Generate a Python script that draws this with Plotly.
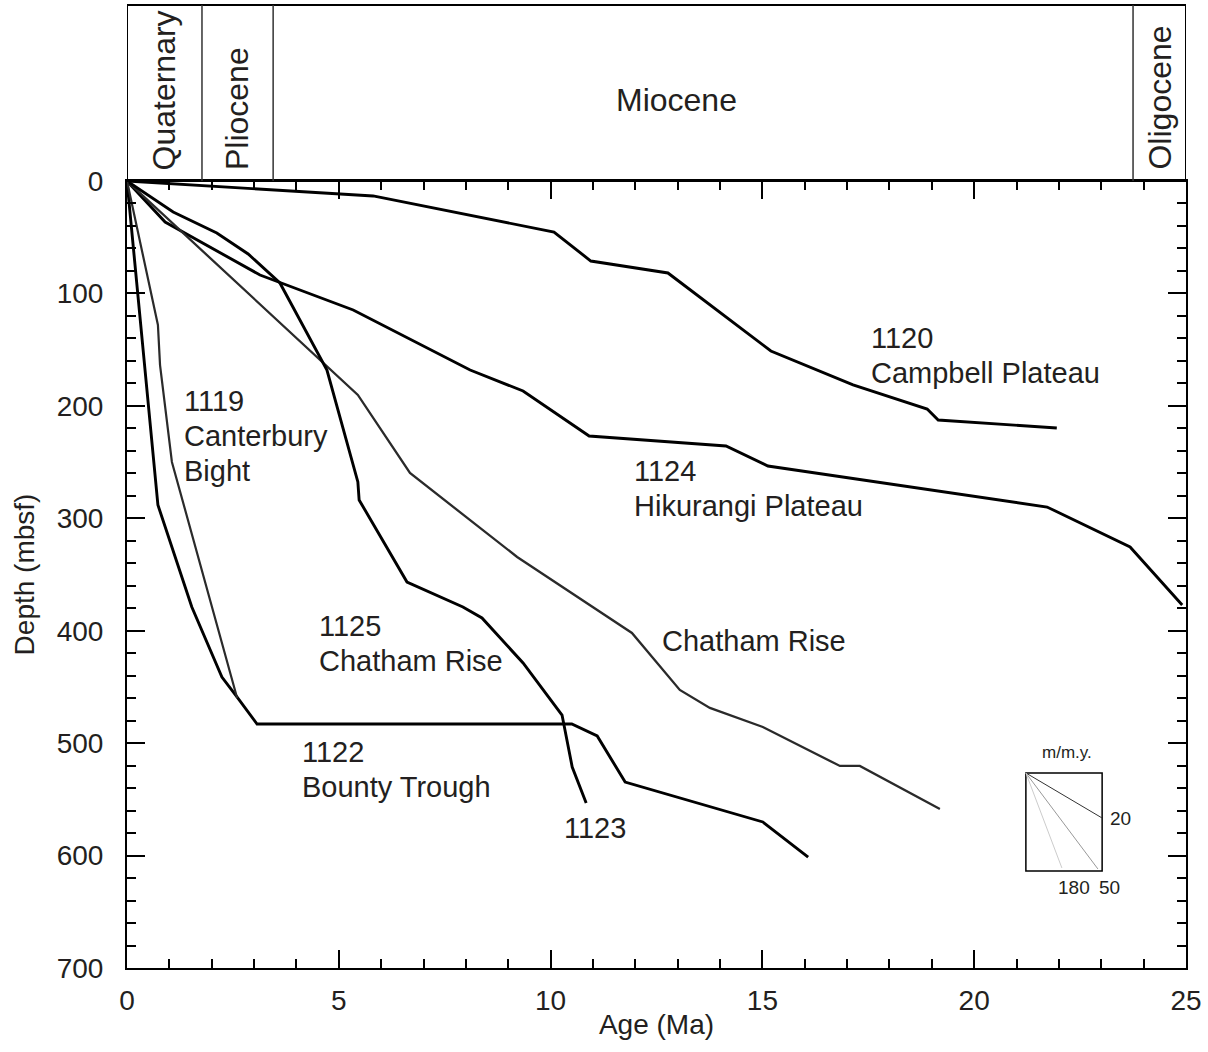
import plotly.graph_objects as go

# ---------------- data (age in Ma, depth in mbsf) ----------------
age_1120 = [0, 5.81, 10.08, 10.95, 12.77, 15.20, 17.14, 18.89, 19.15, 21.95]
depth_1120 = [0, 13.3, 45.4, 71.2, 81.8, 151.2, 181.4, 202.8, 212.6, 219.7]

age_1124 = [0, 0.90, 3.14, 5.34, 8.10, 9.35, 10.91, 14.14, 15.13, 21.72, 23.68, 24.91]
depth_1124 = [0, 36.5, 83.6, 114.7, 168.1, 186.8, 226.8, 235.7, 253.5, 290.0, 325.5, 377.1]

age_chatham = [0, 5.45, 6.68, 9.21, 11.92, 13.05, 13.76, 15.01, 16.83, 17.30, 19.19]
depth_chatham = [0, 190.3, 259.7, 334.4, 402.0, 452.7, 468.7, 485.6, 520.3, 520.3, 558.6]

age_1125 = [0, 1.09, 2.12, 2.86, 3.61, 4.72, 5.45, 5.48, 6.61, 7.93, 8.38, 9.35, 10.27, 10.51, 10.84]
depth_1125 = [0, 27.6, 46.3, 64.9, 90.7, 168.1, 267.7, 283.7, 356.7, 378.9, 388.7, 428.7, 475.0, 521.2, 553.2]

age_1122 = [0, 0.73, 1.53, 2.24, 2.60, 3.07, 10.50, 11.10, 11.76, 15.01, 16.08]
depth_1122 = [0, 288.2, 378.9, 441.2, 459.0, 483.0, 483.0, 493.6, 534.6, 570.1, 601.3]

age_1119 = [0, 0.73, 0.78, 1.06, 2.60]
depth_1119 = [0, 128.1, 163.7, 249.9, 459.8]

epoch_names = ["Quaternary", "Pliocene", "Miocene", "Oligocene"]
epoch_bounds = [1.77, 3.45, 23.75]

x_ticks = [0, 5, 10, 15, 20, 25]
y_ticks = [0, 100, 200, 300, 400, 500, 600, 700]

FONT = "Liberation Sans, Arial, Helvetica, sans-serif"
TXT = "#231f20"

fig = go.Figure()

series = [
    (age_1120, depth_1120, "#000000", 2.9),
    (age_1124, depth_1124, "#000000", 2.9),
    (age_chatham, depth_chatham, "#2a2a2a", 2.3),
    (age_1125, depth_1125, "#000000", 2.9),
    (age_1122, depth_1122, "#000000", 2.9),
    (age_1119, depth_1119, "#2a2a2a", 2.2),
]
for ax, dp, col, w in series:
    fig.add_trace(go.Scatter(x=ax, y=dp, mode="lines",
                             line=dict(color=col, width=w), showlegend=False,
                             hoverinfo="skip"))

main_top = (968 - 181) / 963.0

fig.update_layout(
    width=1208, height=1052,
    margin=dict(l=127, r=22, t=5, b=84, pad=0, autoexpand=False),
    paper_bgcolor="white", plot_bgcolor="white",
    font=dict(family=FONT, color=TXT, size=28),
    xaxis=dict(range=[0, 25], tickmode="array", tickvals=x_ticks,
               ticktext=[str(v) for v in x_ticks], automargin=False,
               ticks="inside", ticklen=18, tickwidth=1.5, tickcolor="black",
               minor=dict(dtick=1, tick0=0, ticks="inside", ticklen=9,
                          tickwidth=1.5, tickcolor="black"),
               showline=True, linewidth=2, linecolor="black", mirror="allticks",
               showgrid=False, zeroline=False,
               tickfont=dict(size=28, family=FONT, color=TXT),
               ticklabelstandoff=6,
               title=dict(text="Age (Ma)", font=dict(size=28, family=FONT, color=TXT),
                          standoff=0)),
    yaxis=dict(range=[700, 0], domain=[0, main_top], tickmode="array",
               tickvals=y_ticks, ticktext=[str(v) for v in y_ticks], automargin=False,
               ticks="inside", ticklen=18, tickwidth=1.5, tickcolor="black",
               minor=dict(dtick=20, tick0=0, ticks="inside", ticklen=9,
                          tickwidth=1.5, tickcolor="black"),
               showline=True, linewidth=2, linecolor="black", mirror="allticks",
               showgrid=False, zeroline=False,
               tickfont=dict(size=28, family=FONT, color=TXT),
               ticklabelstandoff=16,
               title=dict(text="Depth (mbsf)", font=dict(size=28, family=FONT, color=TXT),
                          standoff=14)),
)

# epoch panel
fig.add_shape(type="rect", xref="x", yref="paper", x0=0, x1=25, y0=main_top, y1=1,
              line=dict(color="black", width=2))
for b in epoch_bounds:
    fig.add_shape(type="line", xref="x", yref="paper", x0=b, x1=b, y0=main_top, y1=1,
                  line=dict(color="#333333", width=1.5))

edges = [0] + epoch_bounds + [25]
bottom_paper = (968 - 172) / 963.0
for i, name in enumerate(epoch_names):
    cx = (edges[i] + edges[i + 1]) / 2
    if name == "Miocene":
        fig.add_annotation(x=12.98, y=(968 - 100) / 963.0, xref="x", yref="paper",
                           text=name, showarrow=False, font=dict(size=32, family=FONT, color=TXT),
                           xanchor="center", yanchor="middle")
    else:
        fig.add_annotation(x=cx, y=bottom_paper, xref="x", yref="paper",
                           text=name, showarrow=False, textangle=-90,
                           font=dict(size=32, family=FONT, color=TXT),
                           xanchor="center", yanchor="bottom")

# site labels (one annotation per text line)
labels = [
    (17.52, 123.6, ["1120", "Campbell Plateau"]),
    (1.30, 179.7, ["1119", "Canterbury", "Bight"]),
    (11.92, 241.9, ["1124", "Hikurangi Plateau"]),
    (4.49, 379.8, ["1125", "Chatham Rise"]),
    (12.58, 393.1, ["Chatham Rise"]),
    (4.08, 491.9, ["1122", "Bounty Trough"]),
    (10.27, 559.5, ["1123"]),
]
LINE_STEP = 31.0  # depth units between text lines
for lx, ly, lines in labels:
    for k, t in enumerate(lines):
        fig.add_annotation(x=lx, y=ly + k * LINE_STEP, xref="x", yref="y", text=t,
                           showarrow=False, xanchor="left", yanchor="top", align="left",
                           font=dict(size=29, family=FONT, color=TXT))

# sedimentation-rate key
fig.add_shape(type="rect", xref="x", yref="y", x0=21.22, x1=23.02, y0=526.5, y1=613.7,
              line=dict(color="black", width=1.5))
for ex, ey, col in [(23.02, 566.6, "#333333"), (22.92, 611.9, "#999999"), (22.07, 611.0, "#cccccc")]:
    fig.add_shape(type="line", xref="x", yref="y", x0=21.22, y0=526.5, x1=ex, y1=ey,
                  line=dict(color=col, width=1))
fig.add_annotation(x=22.2, y=508, xref="x", yref="y", text="m/m.y.", showarrow=False,
                   font=dict(size=17, family=FONT, color=TXT), xanchor="center", yanchor="middle")
fig.add_annotation(x=23.16, y=566.6, xref="x", yref="y", text="20", showarrow=False,
                   font=dict(size=19, family=FONT, color=TXT), xanchor="left", yanchor="middle")
fig.add_annotation(x=22.35, y=628, xref="x", yref="y", text="180", showarrow=False,
                   font=dict(size=19, family=FONT, color=TXT), xanchor="center", yanchor="middle")
fig.add_annotation(x=23.2, y=628, xref="x", yref="y", text="50", showarrow=False,
                   font=dict(size=19, family=FONT, color=TXT), xanchor="center", yanchor="middle")

fig.write_html("out.html", config={"displayModeBar": False},
               post_script="document.body.style.margin='0';")
